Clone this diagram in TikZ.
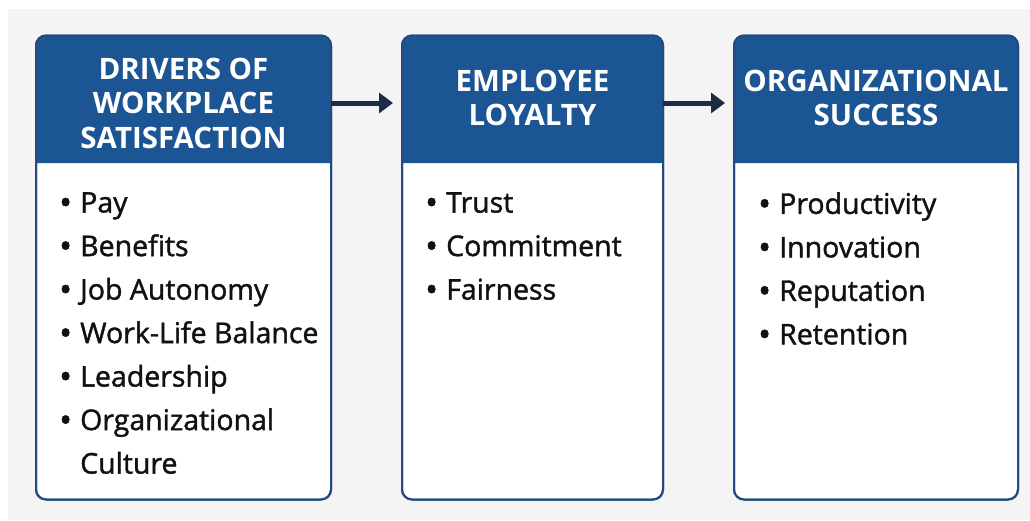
\documentclass[tikz,border=0pt]{standalone}
\usepackage{fontspec}
\setmainfont{Open Sans}
\newfontfamily\listfont{Open Sans}[FakeBold=1.4]
\usetikzlibrary{arrows.meta}
\definecolor{pagebg}{HTML}{F4F4F4}
\definecolor{hdrblue}{HTML}{1B5593}
\definecolor{edgeblue}{HTML}{23497E}
\definecolor{navy}{HTML}{1E2B45}
\definecolor{ink}{HTML}{111111}
\newcommand{\bul}[1]{\makebox[21pt][l]{\raisebox{-2pt}{\scalebox{1.2}{\textbullet}}}#1}
\newcommand{\cont}[1]{\hspace*{21pt}#1}
\begin{document}
\begin{tikzpicture}[x=1pt,y=-1pt,
  panel/.style={draw=edgeblue, line width=2pt, fill=white, rounded corners=10pt,
    inner sep=0pt, outer sep=0pt},
  hdrtext/.style={text=white, align=center, inner sep=0pt,
    font=\fontsize{29.5}{34.5}\selectfont\bfseries},
  bodytext/.style={text=ink, align=left, anchor=north west, inner sep=0pt,
    font=\listfont\fontsize{28.5}{43.5}\selectfont},
  flow/.style={draw=navy, line width=5pt, -{Triangle[width=20pt,length=14pt]}}]
\useasboundingbox (0,0) rectangle (1030,520);
\fill[white] (0,0) rectangle (1030,520);
\fill[pagebg] (8,9) rectangle (1030,520);

% panels
\node[panel, minimum width=295pt, minimum height=464pt] (b1) at (183.5,267.5) {};
\node[panel, minimum width=261pt, minimum height=464pt] (b2) at (532.5,267.5) {};
\node[panel, minimum width=284pt, minimum height=464pt] (b3) at (876,267.5) {};

% header bands
\fill[hdrblue] (b1.west |- 0,163) [rounded corners=9pt] -- (b1.north west) -- (b1.north east) [sharp corners] -- (b1.east |- 0,163) -- cycle;
\fill[hdrblue] (b2.west |- 0,163) [rounded corners=9pt] -- (b2.north west) -- (b2.north east) [sharp corners] -- (b2.east |- 0,163) -- cycle;
\fill[hdrblue] (b3.west |- 0,163) [rounded corners=9pt] -- (b3.north west) -- (b3.north east) [sharp corners] -- (b3.east |- 0,163) -- cycle;
\draw[edgeblue, line width=2pt, rounded corners=10pt] (b1.south west) rectangle (b1.north east);
\draw[edgeblue, line width=2pt, rounded corners=10pt] (b2.south west) rectangle (b2.north east);
\draw[edgeblue, line width=2pt, rounded corners=10pt] (b3.south west) rectangle (b3.north east);

% header titles
\node[hdrtext] (h1) at (183.5,103) {DRIVERS OF\\WORKPLACE\\SATISFACTION};
\node[hdrtext] (h2) at (532.5,98) {EMPLOYEE\\LOYALTY};
\node[hdrtext] (h3) at (876,98) {ORGANIZATIONAL\\SUCCESS};

% bullet lists
\node[bodytext] (l1) at (59,192) {\bul{Pay}\\\bul{Benefits}\\\bul{Job Autonomy}\\\bul{Work-Life Balance}\\\bul{Leadership}\\\bul{Organizational}\\\cont{Culture}};
\node[bodytext] (l2) at (425,192) {\bul{Trust}\\\bul{Commitment}\\\bul{Fairness}};
\node[bodytext] (l3) at (758,192) {\bul{Productivity}\\\bul{Innovation}\\\bul{Reputation}\\\bul{Retention}};

% flow arrows between panels
\coordinate (a1) at (b1.east |- 0,103);
\coordinate (a2) at (b2.west |- 0,103);
\coordinate (a3) at (b2.east |- 0,103);
\coordinate (a4) at (b3.west |- 0,103);
\draw[flow, shorten >=9pt] (a1) -- (a2);
\draw[flow, shorten >=9pt] (a3) -- (a4);
\end{tikzpicture}
\end{document}
